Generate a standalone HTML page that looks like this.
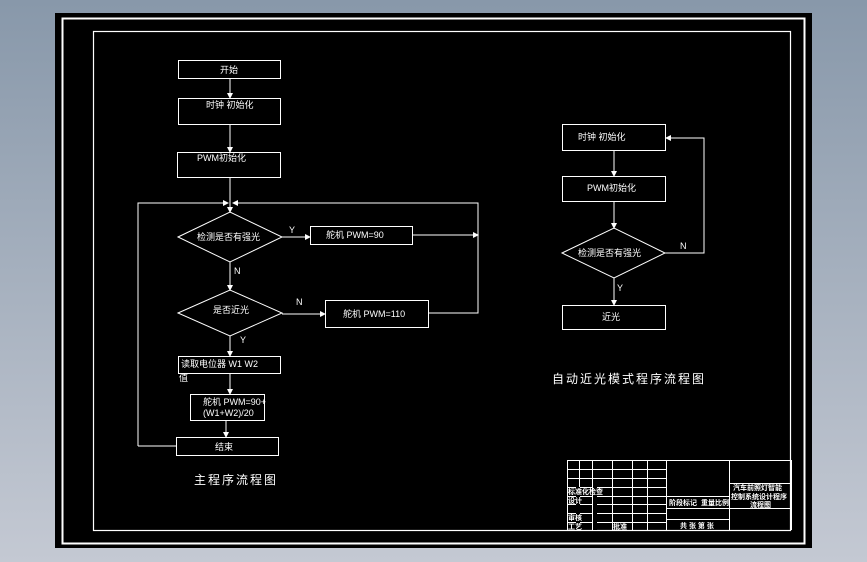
<!DOCTYPE html>
<html><head><meta charset="utf-8"><style>
html,body{margin:0;padding:0;width:867px;height:562px;overflow:hidden;background:linear-gradient(#8898aa,#c4c9d3);}
svg{position:absolute;left:0;top:0}
text{font-family:"Liberation Sans","Noto Sans CJK SC",sans-serif;fill:#fff;font-size:9px}
.c{font-size:12px;letter-spacing:2px}
.t{font-size:7px;font-weight:bold}
</style></head><body>
<svg width="867" height="562" viewBox="0 0 867 562">
<defs><marker id="a" markerWidth="6" markerHeight="6" refX="5" refY="3" orient="auto" markerUnits="userSpaceOnUse"><path d="M0,0L6,3L0,6z" fill="#fff"/></marker></defs>
<rect x="55" y="13" width="757" height="535" fill="#000"/>
<g fill="none" stroke="#fff" stroke-width="1.2">
<rect x="62.5" y="18.5" width="742" height="525" stroke-width="2"/>
<rect x="93.5" y="31.5" width="697" height="499"/>
</g>
<g fill="none" stroke="#fff" stroke-width="1">
<!-- main flow -->
<rect x="178.5" y="60.5" width="102" height="18"/>
<rect x="178.5" y="98.5" width="102" height="26"/>
<rect x="177.5" y="152.5" width="103" height="25"/>
<line x1="230" y1="78" x2="230" y2="98" marker-end="url(#a)"/>
<line x1="230" y1="124" x2="230" y2="152" marker-end="url(#a)"/>
<line x1="230" y1="177" x2="230" y2="212" marker-end="url(#a)"/>
<polygon points="178,237 230,212 282,237 230,262"/>
<polyline points="138,446 138,203 228,203" marker-end="url(#a)"/>
<polyline points="478,234 478,203 233,203" marker-end="url(#a)"/>
<line x1="282" y1="237" x2="310" y2="237" marker-end="url(#a)"/>
<rect x="310.5" y="226.5" width="102" height="18"/>
<line x1="413" y1="235" x2="478" y2="235" marker-end="url(#a)"/>
<line x1="230" y1="262" x2="230" y2="290" marker-end="url(#a)"/>
<polygon points="178,313 230,290 282,313 230,336"/>
<line x1="282" y1="314" x2="325" y2="314" marker-end="url(#a)"/>
<rect x="325.5" y="300.5" width="103" height="27"/>
<polyline points="428,313 478,313 478,234"/>
<line x1="230" y1="336" x2="230" y2="356" marker-end="url(#a)"/>
<rect x="178.5" y="356.5" width="102" height="17"/>
<line x1="230" y1="373" x2="230" y2="394" marker-end="url(#a)"/>
<rect x="190.5" y="394.5" width="74" height="26"/>
<line x1="226" y1="420" x2="226" y2="437" marker-end="url(#a)"/>
<rect x="176.5" y="437.5" width="102" height="18"/>
<line x1="138" y1="446" x2="176" y2="446"/>
<!-- right flow -->
<rect x="562.5" y="124.5" width="103" height="26"/>
<line x1="614" y1="150" x2="614" y2="176" marker-end="url(#a)"/>
<rect x="562.5" y="176.5" width="103" height="25"/>
<line x1="614" y1="201" x2="614" y2="228" marker-end="url(#a)"/>
<polygon points="562,253 614,228 665,253 614,278"/>
<polyline points="665,253 704,253 704,138 666,138" marker-end="url(#a)"/>
<line x1="614" y1="278" x2="614" y2="305" marker-end="url(#a)"/>
<rect x="562.5" y="305.5" width="103" height="24"/>
<!-- title block -->
<path d="M567.5,530V460.5H791M579.5,460V530M592.5,460V530M612.5,460V530M632.5,460V530M647.5,460V530M666.5,460V530M729.5,460V530M791.5,460V530"/>
<path d="M567,469.5H666M567,478.5H666M567,487.5H666M567,496.5H666M567,504.5H666M567,513.5H666M567,522.5H666"/>
<path d="M666,496.5H729M666,508.5H729M666,519.5H729M729,483.5H791M729,508.5H791"/>
</g>
<rect x="576" y="487" width="4" height="43" fill="#000"/>
<rect x="593" y="487" width="4" height="43" fill="#000"/>
<g>
<text x="220" y="73">开始</text>
<text x="206" y="108">时钟 初始化</text>
<text x="197" y="161">PWM初始化</text>
<text x="197" y="240">检测是否有强光</text>
<text x="289" y="233">Y</text>
<text x="326" y="238">舵机 PWM=90</text>
<text x="234" y="274">N</text>
<text x="213" y="313">是否近光</text>
<text x="296" y="305">N</text>
<text x="343" y="317">舵机 PWM=110</text>
<text x="240" y="343">Y</text>
<text x="181" y="367">读取电位器 W1 W2</text>
<text x="179" y="381">值</text>
<text x="203" y="405">舵机 PWM=90+</text>
<text x="203" y="416">(W1+W2)/20</text>
<text x="215" y="450">结束</text>
<text class="c" x="194" y="484">主程序流程图</text>
<text x="578" y="140">时钟 初始化</text>
<text x="587" y="191">PWM初始化</text>
<text x="578" y="256">检测是否有强光</text>
<text x="680" y="249">N</text>
<text x="617" y="291">Y</text>
<text x="602" y="320">近光</text>
<text class="c" x="552" y="383">自动近光模式程序流程图</text>
<text class="t" x="568" y="494">标准化检查</text>
<text class="t" x="568" y="503">设计</text>
<text class="t" x="568" y="520">审核</text>
<text class="t" x="568" y="529">工艺</text>
<text class="t" x="613" y="529">批准</text>
<text class="t" x="669" y="505">阶段标记</text>
<text class="t" x="701" y="505">重量</text>
<text class="t" x="715" y="505">比例</text>
<text class="t" x="680" y="528">共 张 第 张</text>
<text class="t" x="733" y="490">汽车前照灯智能</text>
<text class="t" x="731" y="499">控制系统设计程序</text>
<text class="t" x="750" y="507">流程图</text>
</g>
</svg>
</body></html>
